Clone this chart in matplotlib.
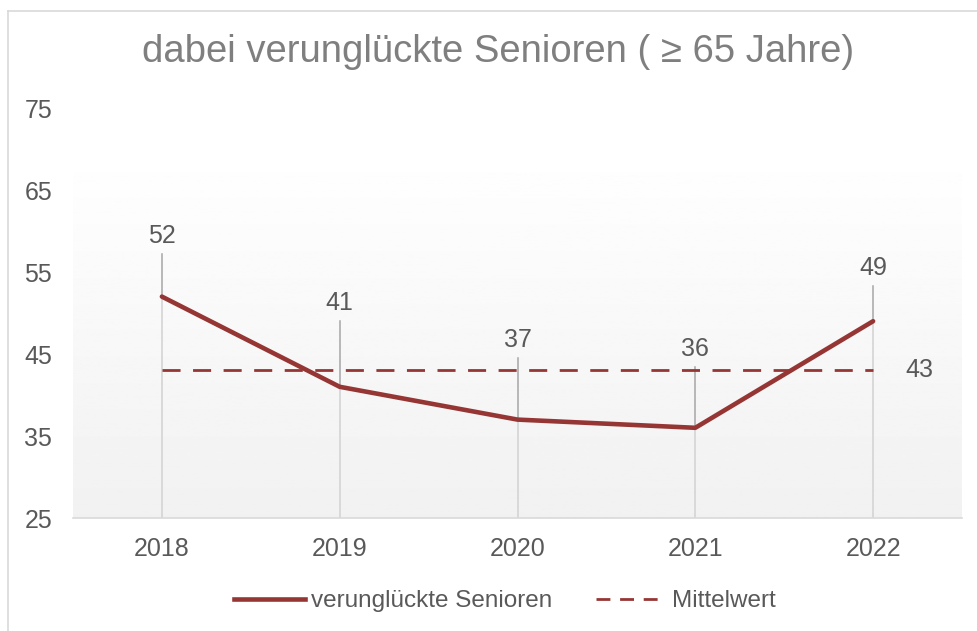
import matplotlib

matplotlib.use("Agg")
import matplotlib.pyplot as plt
import numpy as np
from matplotlib.lines import Line2D

plt.rcParams["font.family"] = ["Liberation Sans", "DejaVu Sans"]

# data
years = ["2018", "2019", "2020", "2021", "2022"]
senioren = [52, 41, 37, 36, 49]
mittelwert = 43
y_ticks = [25, 35, 45, 55, 65, 75]
title = "dabei verunglückte Senioren ( ≥ 65 Jahre)"

# label offsets above each point (pixels), as placed in the original
label_offsets_px = [61, 84, 80, 79, 53]

LINE_RED = "#963634"
TEXT_GRAY = "#595959"
W, H, DPI = 977, 631, 100

fig = plt.figure(figsize=(W / DPI, H / DPI), dpi=DPI)
ax = fig.add_axes([73 / W, 1 - 518 / H, (962 - 73) / W, (518 - 108) / H])
ax.set_xlim(-0.5, len(years) - 0.5)
ax.set_ylim(y_ticks[0], y_ticks[-1])
px_per_unit = (518 - 108) / (y_ticks[-1] - y_ticks[0])

# gradient backdrop of the plot area
grad = np.linspace(0.945, 0.998, 256).reshape(-1, 1)
ax.imshow(grad, cmap="gray", vmin=0, vmax=1, aspect="auto", origin="lower",
          extent=[-0.5, len(years) - 0.5, y_ticks[0], 68.7], zorder=0)

x = np.arange(len(years))
ax.vlines(x, y_ticks[0], senioren, color="#D4D4D4", linewidth=1.2, zorder=1)
ax.plot(x, senioren, color=LINE_RED, linewidth=3.3, solid_capstyle="round", zorder=4)
ax.plot([x[0], x[-1]], [mittelwert, mittelwert], color=LINE_RED, linewidth=2.0,
        dashes=(6.5, 4.5), zorder=3)

for xi, val, off in zip(x, senioren, label_offsets_px):
    top = val + (off - 18) / px_per_unit
    ax.plot([xi, xi], [val, top], color="#A6A6A6", linewidth=1.1, zorder=2)
    ax.text(xi, val + off / px_per_unit, str(val), ha="center", va="center",
            fontsize=18, color=TEXT_GRAY, zorder=5)

ax.text(x[-1] + 0.18, mittelwert, str(mittelwert), ha="left", va="center",
        fontsize=18, color=TEXT_GRAY)

ax.set_xticks(x)
ax.set_xticklabels(years)
ax.set_yticks(y_ticks)
ax.tick_params(axis="both", length=0, labelsize=18, labelcolor=TEXT_GRAY)
ax.tick_params(axis="x", pad=14)
ax.tick_params(axis="y", pad=15)
for side in ("top", "right", "left"):
    ax.spines[side].set_visible(False)
ax.spines["bottom"].set_color("#D9D9D9")
ax.spines["bottom"].set_linewidth(1.2)
ax.patch.set_facecolor("white")

fig.text(498 / W, 1 - 52 / H, title, ha="center", va="center", fontsize=27.5,
         color="#7F7F7F")

handles = [
    Line2D([], [], color=LINE_RED, linewidth=3.3),
    Line2D([], [], color=LINE_RED, linewidth=2.0, dashes=(5, 3.5)),
]
fig.legend(handles, ["verunglückte Senioren", "Mittelwert"], loc="center",
           bbox_to_anchor=(505 / W, 1 - 601 / H), ncol=2, frameon=False,
           fontsize=17.5, labelcolor=TEXT_GRAY, handlelength=2.9,
           handletextpad=0.25, columnspacing=1.8)

# light outer frame (top and left edges visible)
fig.add_artist(Line2D([8 / W, 1], [1 - 11 / H, 1 - 11 / H], color="#D9D9D9",
                      linewidth=1.2, transform=fig.transFigure))
fig.add_artist(Line2D([8 / W, 8 / W], [0, 1 - 11 / H], color="#D9D9D9",
                      linewidth=1.2, transform=fig.transFigure))

fig.savefig("out.png", dpi=DPI)
